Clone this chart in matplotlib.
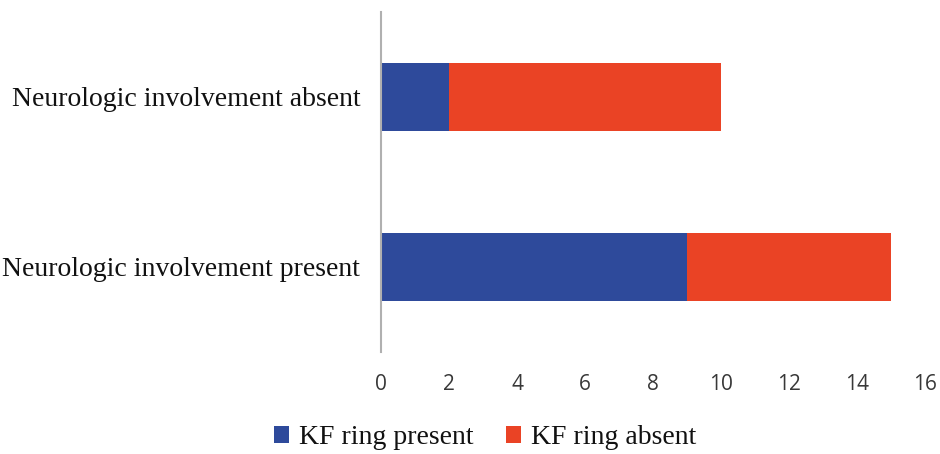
import matplotlib
matplotlib.use("Agg")
import matplotlib.pyplot as plt

categories = ["Neurologic involvement present", "Neurologic involvement absent"]
kf_present = [9, 2]
kf_absent = [6, 8]
series_labels = ["KF ring present", "KF ring absent"]
xticks = [0, 2, 4, 6, 8, 10, 12, 14, 16]

blue = "#2E4A9B"
red = "#EA4325"

fig = plt.figure(figsize=(9.4, 4.54), dpi=100)
ax = fig.add_axes([381/940, (454-352)/454, 544/940, 340/454])

y = list(range(len(categories)))
ax.barh(y, kf_present, height=0.4, color=blue, label=series_labels[0])
ax.barh(y, kf_absent, left=kf_present, height=0.4, color=red, label=series_labels[1])

ax.set_xlim(0, 16)
ax.set_ylim(-0.5, 1.5)
ax.set_xticks(xticks)
ax.set_xticklabels([str(t) for t in xticks], family="Open Sans", fontsize=15, color="#383838")
ax.set_yticks(y)
ax.set_yticklabels(categories, family="Liberation Serif", fontsize=20, color="#111111")
ax.tick_params(axis="x", length=0, pad=16)
ax.tick_params(axis="y", length=0, pad=15)
for s in ["top", "right", "bottom"]:
    ax.spines[s].set_visible(False)
ax.spines["left"].set_color("#b0b0b0")
ax.spines["left"].set_linewidth(1.5)

leg = fig.legend(loc="center", bbox_to_anchor=(485/940, 1 - 438/454), ncol=2, frameon=False,
                 prop={"family": "Liberation Serif", "size": 20}, handlelength=0.55, handleheight=0.55,
                 handletextpad=0.35, columnspacing=1.15)
for t in leg.get_texts():
    t.set_color("#111111")

fig.savefig("out.png", dpi=100)
